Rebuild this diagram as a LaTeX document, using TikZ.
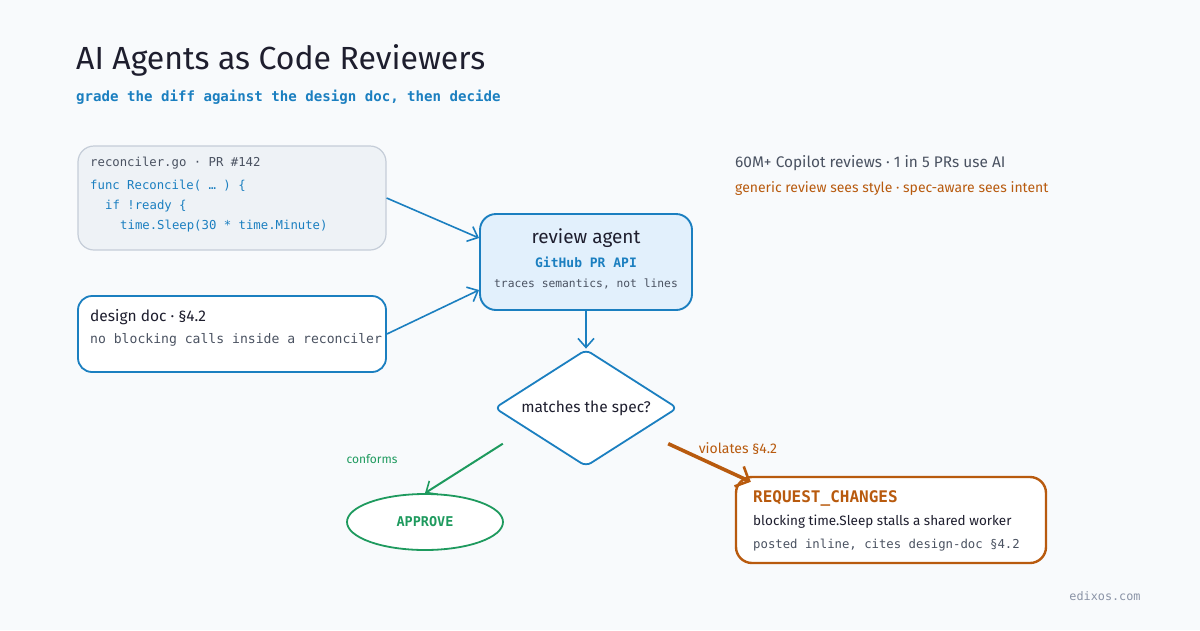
\documentclass[tikz,border=0pt]{standalone}
\usepackage{fontspec}
\setmainfont{Fira Sans}
\setmonofont{DejaVu Sans Mono}
\usetikzlibrary{arrows.meta,positioning,shapes.geometric}
\definecolor{PaperBg}{HTML}{F8FAFC}
\definecolor{InkDark}{HTML}{1E1E2E}
\definecolor{InkGray}{HTML}{4A5261}
\definecolor{AgentBlue}{HTML}{1B7FC0}
\definecolor{SoftAgent}{HTML}{E2F0FC}
\definecolor{CodeFill}{HTML}{EEF2F6}
\definecolor{CodeLine}{HTML}{C5CDD8}
\definecolor{PassGreen}{HTML}{1E9A5E}
\definecolor{FailOrange}{HTML}{B85A0E}
\definecolor{FootGray}{HTML}{8A93A6}
\tikzset{
  hand/.style={font=\fontsize{15.5}{17}\selectfont,text=InkDark,inner sep=0pt},
  small hand/.style={font=\fontsize{13.3}{15}\selectfont,inner sep=0pt},
  mono/.style={font=\ttfamily\fontsize{12.3}{14}\selectfont,inner sep=0pt},
  codebox/.style={draw=CodeLine,fill=CodeFill,rounded corners=16pt,line width=1.2pt,
    minimum width=308pt,minimum height=104pt},
  docbox/.style={draw=AgentBlue,fill=white,rounded corners=14pt,line width=1.8pt,
    minimum width=308pt,minimum height=76pt},
  agentbox/.style={draw=AgentBlue,fill=SoftAgent,rounded corners=16pt,line width=1.9pt,
    minimum width=212pt,minimum height=96pt},
  decision/.style={diamond,draw=AgentBlue,fill=white,line width=1.8pt,rounded corners=6pt,
    aspect=1.56,minimum width=183pt,minimum height=117pt,inner sep=0pt,
    font=\fontsize{15.5}{17}\selectfont,text=InkDark},
  verdict/.style={ellipse,draw=PassGreen,fill=white,line width=1.8pt,
    minimum width=156pt,minimum height=56pt,inner sep=0pt,
    font=\ttfamily\bfseries\fontsize{13.5}{15}\selectfont,text=PassGreen},
  changebox/.style={draw=FailOrange,fill=white,rounded corners=16pt,line width=2.4pt,
    minimum width=310pt,minimum height=86pt},
  arrow/.style={-{Straight Barb[length=9pt,width=16pt,line width=1.6pt]},line width=1.6pt,AgentBlue}
}
\begin{document}
\begin{tikzpicture}[x=1pt,y=-1pt]
  \fill[PaperBg] (0,0) rectangle (1200,630);
  \useasboundingbox (0,0) rectangle (1200,630);

  % heading
  \node[anchor=west,inner sep=0pt,font=\fontsize{32}{36}\selectfont,text=InkDark] (title) at (76,60) {AI Agents as Code Reviewers};
  \node[mono,anchor=west,font=\ttfamily\bfseries\fontsize{14.1}{16}\selectfont,text=AgentBlue] (subtitle) at (76,97) {grade the diff against the design doc, then decide};

  % inputs
  \node[codebox] (code) at (232,198) {};
  \node[mono,anchor=west,text=InkGray] (codehead) at (90,163) {reconciler.go · PR \#142};
  \node[mono,anchor=west,text=AgentBlue] (line1) at (90,186) {func Reconcile( … ) \{};
  \node[mono,anchor=west,text=AgentBlue] (line2) at (105,206) {if !ready \{};
  \node[mono,anchor=west,text=AgentBlue] (line3) at (120,226) {time.Sleep(30 * time.Minute)};

  \node[docbox] (doc) at (232,334) {};
  \node[hand,anchor=west] (dochead) at (90,317) {design doc · §4.2};
  \node[mono,anchor=west,text=InkGray,font=\ttfamily\fontsize{13.1}{15}\selectfont] (docrule) at (90,340) {no blocking calls inside a reconciler};

  % agent
  \node[agentbox] (agent) at (586,262) {};
  \node[hand,font=\fontsize{19}{21}\selectfont] (agentname) at (586,238) {review agent};
  \node[mono,text=AgentBlue,font=\ttfamily\bfseries\fontsize{13}{15}\selectfont] (agentapi) at (586,262) {GitHub PR API};
  \node[mono,text=InkGray,font=\ttfamily\fontsize{11.3}{13}\selectfont] (agentnote) at (586,284) {traces semantics, not lines};

  \draw[arrow] (code.east) -- ([yshift=24pt]agent.west);
  \draw[arrow] (doc.east) -- ([yshift=-28pt]agent.west);

  % stats
  \node[hand,anchor=west,text=InkGray,font=\fontsize{15.4}{17}\selectfont] (stats) at (735,163) {60M+ Copilot reviews · 1 in 5 PRs use AI};
  \node[small hand,anchor=west,text=FailOrange,font=\fontsize{14}{16}\selectfont] (contrast) at (735,189) {generic review sees style · spec-aware sees intent};

  % decision
  \node[decision] (dec) at (586,408) {matches the spec?};
  \draw[arrow] (agent.south) -- (dec.north);

  \node[verdict] (approve) at (425,522) {APPROVE};
  \draw[arrow,PassGreen,line width=2pt] ([shift={(-37pt,-6pt)}]dec.south west) -- (approve.north);
  \node[small hand,text=PassGreen,font=\fontsize{12}{14}\selectfont] (conforms) at (372,459) {conforms};

  \node[changebox] (req) at (891,520) {};
  \node[anchor=west,inner sep=0pt,font=\ttfamily\bfseries\fontsize{16}{18}\selectfont,text=FailOrange] (reqhead) at (753,498) {REQUEST\_CHANGES};
  \node[small hand,anchor=west,text=InkDark,font=\fontsize{13.5}{15}\selectfont] (reqwhy) at (753,522) {blocking time.Sleep stalls a shared worker};
  \node[mono,anchor=west,text=InkGray] (reqwhere) at (753,545) {posted inline, cites design-doc §4.2};
  \draw[arrow,FailOrange,line width=3.6pt,-{Straight Barb[length=11pt,width=22pt,line width=2.6pt]}]
    ([shift={(36pt,-6pt)}]dec.south east) -- ([shift={(16pt,-6pt)}]req.north west);
  \node[small hand,text=FailOrange,font=\fontsize{14}{16}\selectfont] (violates) at (738,449) {violates §4.2};

  % footer
  \node[mono,text=FootGray,font=\ttfamily\fontsize{11.8}{13}\selectfont] (site) at (1105,596) {edixos.com};
\end{tikzpicture}
\end{document}
